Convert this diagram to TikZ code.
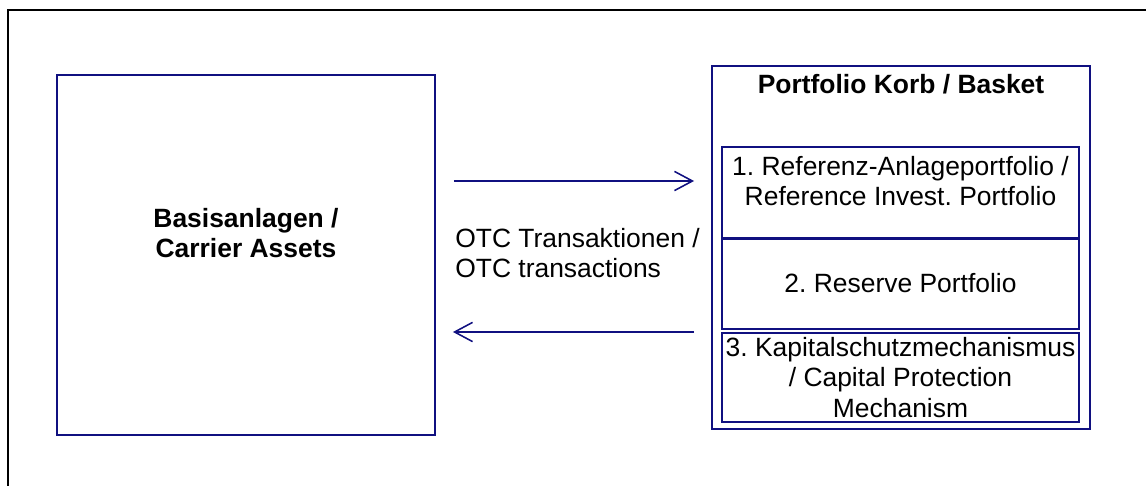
\documentclass[tikz,border=0pt]{standalone}
\usepackage{fontspec}
\setmainfont{Liberation Sans}
\usepackage{tikz}
\usetikzlibrary{positioning,arrows.meta,calc}
\definecolor{navy}{RGB}{16,16,128}
\frenchspacing

\begin{document}
\begin{tikzpicture}[x=0.025cm, y=-0.025cm,
  every node/.style={font=\fontsize{18.8}{21.6}\selectfont, inner sep=0pt},
  box/.style={draw=navy, line width=1.3pt, align=center},
  flow/.style={draw=navy, line width=1.1pt, -{Straight Barb[length=4.5mm, width=4.8mm, line width=1.1pt]}}]

\useasboundingbox (0,0) rectangle (1146,486);

% frame
\draw[line width=1.4pt] (1146,10) -- (8,10) -- (8,486);

% left block
\node[box, minimum width=378*0.025cm, minimum height=360*0.025cm] (carrier) at (246,255) {};
\node[font=\fontsize{18.8}{21.6}\selectfont\bfseries, align=center] (carriertxt) at (246,233) {Basisanlagen /\\Carrier Assets};

% basket
\node[box, minimum width=378*0.025cm, minimum height=363*0.025cm] (basket) at (901,247.5) {};
\node[font=\fontsize{18.8}{21.6}\selectfont\bfseries] (baskettxt) at (901,84) {Portfolio Korb / Basket};

\node[box, minimum width=357*0.025cm, minimum height=91*0.025cm] (ref) at (900.5,192.5) {};
\node[align=center] (reftxt) at (900.5,181) {1. Referenz-Anlageportfolio /\\Reference Invest. Portfolio};
\draw[navy, line width=2.2pt] (ref.south west) -- (ref.south east);

\node[box, minimum width=357*0.025cm, minimum height=91*0.025cm] (reserve) at (900.5,283.5) {2. Reserve Portfolio};

\node[box, minimum width=357*0.025cm, minimum height=89*0.025cm] (protect) at (900.5,377.5) {3. Kapitalschutzmechanismus\\/ Capital Protection\\Mechanism};

% transactions
\draw[flow] ($(carrier.east |- 0,181)+(18,0)$) -- ($(basket.west |- 0,181)+(-17,0)$);
\draw[flow] ($(basket.west |- 0,332)+(-17,0)$) -- ($(carrier.east |- 0,332)+(17,0)$);
\node[align=left, anchor=west] (otc) at (455,253) {OTC Transaktionen /\\OTC transactions};

\end{tikzpicture}
\end{document}
